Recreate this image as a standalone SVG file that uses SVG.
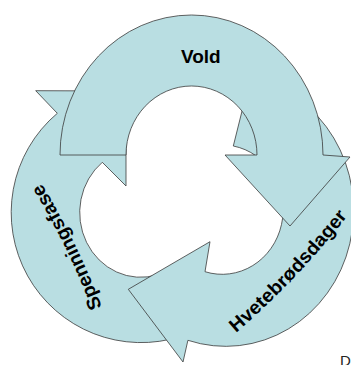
<svg xmlns="http://www.w3.org/2000/svg" width="351" height="365" viewBox="0 0 351 365">
<style>
.arrow{fill:#B9DEE2;stroke:#3a3a3a;stroke-width:0.8;stroke-linejoin:miter}
.lbl{font-family:"Liberation Sans",Arial,sans-serif;font-weight:bold;font-size:19px;fill:#000}
.note{font-family:"Liberation Sans",Arial,sans-serif;font-size:15px;fill:#222}
</style>
<defs>
<path id="pSpen" d="M102,307 Q77.9,243.4 42,184"/>
<path id="pHvet" d="M236,333 Q298.8,278.5 349,214"/>
</defs>
<rect width="351" height="365" fill="#fff"/>
<g id="spenningsfase">
<path class="arrow" d="M157.4,274.8 L181.5,336.2 A130,130 0 0 1 57.3,113.3 L35.7,90.7 L126,91 L126,186 L102.3,162.3 A61,64.7 0 0 0 157.4,274.8 Z"/>
<text class="lbl"><textPath href="#pSpen" textLength="138" lengthAdjust="spacingAndGlyphs">Spenningsfase</textPath></text>
</g>
<g id="hvetebrodsdager">
<path class="arrow" d="M250.4,77.5 A128,135.7 0 1 1 187.9,340.3 L183,362 L128.3,289.3 L210,241.7 L205,271.7 A61,64.7 0 1 0 233.3,146 Z"/>
<text class="lbl"><textPath href="#pHvet" textLength="162" lengthAdjust="spacingAndGlyphs">Hvetebrødsdager</textPath></text>
</g>
<g id="vold">
<path class="arrow" d="M60,155 A131.5,140 0 0 1 323,155 L350,157 L290,226 L225,155 L257,155 A65.5,69 0 0 0 126,155 Z"/>
<text class="lbl" x="200.8" y="62.7" text-anchor="middle">Vold</text>
</g>
<g id="connectors"></g>
<text class="note" x="340" y="366">D</text>
</svg>
